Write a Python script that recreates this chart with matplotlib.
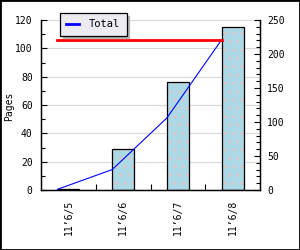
import matplotlib.pyplot as plt
from matplotlib.patches import Rectangle
from matplotlib.ticker import MultipleLocator, FixedLocator

days = ["11’6/5", "11’6/6", "11’6/7", "11’6/8"]
pages = [1, 29, 76, 115]
total = [1, 30, 106, 221]
peak = [221, 221]

plt.rcParams['font.family'] = ['DejaVu Sans Mono']
plt.rcParams['font.size'] = 7
plt.rcParams['hatch.linewidth'] = 0.8

fig = plt.figure(figsize=(3, 2.5), dpi=100)
fig.patch.set_facecolor('white')
fig.patches.append(Rectangle((0, 0), 1, 1, transform=fig.transFigure,
                             fill=False, edgecolor='black', linewidth=2))

ax = fig.add_axes([41 / 300, 1 - 190 / 250, 219 / 300, 170 / 250])
ax2 = ax.twinx()

x = list(range(len(days)))
# dotted fill then black outline
ax.bar(x, pages, width=0.4, color='#add8e6', edgecolor='#e3c2c2', hatch='..',
       linewidth=0, zorder=2)
ax.bar(x, pages, width=0.4, fill=False, edgecolor='black', linewidth=0.9, zorder=3)
ax.set_xlim(-0.5, len(days) - 0.5)
ax.set_ylim(0, 120)
ax.yaxis.set_major_locator(MultipleLocator(20))
ax.yaxis.set_minor_locator(MultipleLocator(10))
ax.grid(axis='y', color='#d8d8d8', linewidth=0.8, zorder=0)
ax.set_axisbelow(True)
ax.set_xticks(x)
ax.set_xticklabels(days, rotation=90)
ax.xaxis.set_minor_locator(FixedLocator([0.5, 1.5, 2.5]))
ax.tick_params(axis='x', which='major', length=0, pad=7)
ax.tick_params(axis='x', which='minor', direction='in', length=4, width=0.8)
ax.tick_params(axis='y', which='major', direction='in', length=4, width=0.8, pad=6)
ax.tick_params(axis='y', which='minor', direction='in', length=3, width=0.8)
fig.text(9 / 300, 1 - 106 / 250, 'Pages', rotation=90, ha='center', va='center')

lx = [i - 0.2 for i in x]
line, = ax2.plot(lx, total, color='blue', linewidth=0.8, label='Total', zorder=4)
ax2.plot([lx[0], lx[-1]], peak, color='red', linewidth=2, zorder=4)
ax2.set_ylim(0, 250)
ax2.yaxis.set_major_locator(MultipleLocator(50))
ax2.yaxis.set_minor_locator(MultipleLocator(10))
ax2.tick_params(axis='y', which='major', direction='in', length=4, width=0.8, pad=5)
ax2.tick_params(axis='y', which='minor', direction='in', length=3, width=0.8)

for a in (ax, ax2):
    a.spines['top'].set_visible(False)
    for s in ('left', 'right', 'bottom'):
        a.spines[s].set_linewidth(0.9)

leg = fig.legend(handles=[line], loc='upper left',
                 bbox_to_anchor=(60 / 300, 1 - 13 / 250),
                 frameon=True, fancybox=False,
                 shadow={'color': '#b4b4b4', 'alpha': 1},
                 edgecolor='black', facecolor='#ecebf2', framealpha=1,
                 handlelength=1.2, borderpad=0.6, handletextpad=1.0,
                 borderaxespad=0, fontsize=7.5)
leg.get_frame().set_linewidth(0.9)
leg.get_lines()[0].set_linewidth(2)

fig.savefig('out.png', dpi=100)
